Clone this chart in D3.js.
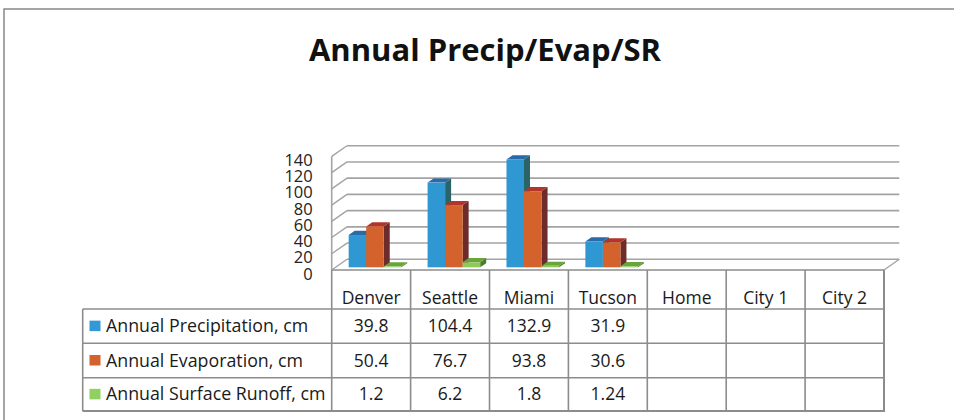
<!DOCTYPE html>
<html><head><meta charset="utf-8">
<script src="https://cdn.jsdelivr.net/npm/d3@7"></script>
<style>html,body{margin:0;padding:0;background:#fff;}svg{display:block;}</style>
</head><body>
<svg id="c" width="954" height="420"></svg>
<script>
const title = "Annual Precip/Evap/SR";
const categories = ["Denver","Seattle","Miami","Tucson","Home","City 1","City 2"];
const seriesNames = ["Annual Precipitation, cm","Annual Evaporation, cm","Annual Surface Runoff, cm"];
const precip = [39.8,104.4,132.9,31.9,null,null,null];
const evap = [50.4,76.7,93.8,30.6,null,null,null];
const runoff = [1.2,6.2,1.8,1.24,null,null,null];
const yTicks = [0,20,40,60,80,100,120,140];

const seriesValues = [precip, evap, runoff];
const colors = [
  {front:"#2f98d2", top:"#2b6aa8", side:"#2a6466", key:"#3399d6"},
  {front:"#d3622c", top:"#b2352a", side:"#6d2b2b", key:"#d4622c"},
  {front:"#8dc95b", top:"#6aa53b", side:"#4d7a2c", key:"#8fd060"}
];

const svg = d3.select("#c");
const font = "'Open Sans', 'Noto Sans', sans-serif";
const gridCol = "#a3a3a3", lineCol = "#8c8c8c";

// frame
svg.append("rect").attr("x",4).attr("y",9).attr("width",980).attr("height",440)
  .attr("fill","none").attr("stroke","#888").attr("stroke-width",1.5);

svg.append("text").attr("x",485).attr("y",61).attr("text-anchor","middle")
  .attr("font-family",font).attr("font-weight","bold").attr("font-size",31)
  .attr("fill","#111").text(title);

// geometry
const x0 = 331.7, x1 = 884, yFront = 270;
const depthDx = 15.3, depthDy = 10.7;
const x = d3.scaleBand().domain(categories).range([x0, x1]);
const h = d3.scaleLinear().domain([0,140]).range([0,113.6]);
const xs = d3.scaleBand().domain(seriesNames).range([0, x.bandwidth()]).paddingInner(0).paddingOuter(0.75);

const g = svg.append("g");
yTicks.forEach(t => {
  const yb = yFront - depthDy - h(t), yf = yFront - h(t);
  g.append("line").attr("x1",x0+depthDx).attr("x2",x1+depthDx).attr("y1",yb).attr("y2",yb)
    .attr("stroke",gridCol).attr("stroke-width",1.6);
  g.append("line").attr("x1",x0).attr("x2",x0+depthDx).attr("y1",yf).attr("y2",yb)
    .attr("stroke",gridCol).attr("stroke-width",1.4);
});
g.append("line").attr("x1",x0).attr("x2",x0).attr("y1",yFront).attr("y2",yFront-h(140))
  .attr("stroke",gridCol).attr("stroke-width",1.6);
g.append("line").attr("x1",x1).attr("x2",x1+depthDx).attr("y1",yFront).attr("y2",yFront-depthDy)
  .attr("stroke",gridCol).attr("stroke-width",1.4);

// y labels
yTicks.forEach(t => {
  svg.append("text").attr("x",312.7).attr("y",yFront - h(t) + 9.5)
    .attr("text-anchor","end").attr("font-family",font).attr("font-size",16.5)
    .attr("fill","#222").text(t);
});

// bars
const bf = 0.25, bd = 6, bdy = bd*depthDy/depthDx;
const shiftX = bf*depthDx, baseY = yFront - bf*depthDy;
const bars = svg.append("g");
categories.forEach((c,i) => {
  seriesValues.forEach((vals,s) => {
    const v = vals[i];
    if (v == null) return;
    const bx = x(c) + shiftX + xs(seriesNames[s]);
    const w = xs.bandwidth();
    const ty = baseY - h(v);
    const col = colors[s];
    bars.append("path").attr("d",`M${bx+w},${baseY}L${bx+w+bd},${baseY-bdy}L${bx+w+bd},${ty-bdy}L${bx+w},${ty}Z`)
      .attr("fill",col.side);
    bars.append("path").attr("d",`M${bx},${ty}L${bx+bd},${ty-bdy}L${bx+w+bd},${ty-bdy}L${bx+w},${ty}Z`)
      .attr("fill",col.top);
    bars.append("rect").attr("x",bx).attr("y",ty).attr("width",w).attr("height",baseY-ty)
      .attr("fill",col.front);
  });
});

// data table
const rowTops = [309, 343.3, 377.7, 411];
const legX = 82.7;
const t = svg.append("g").attr("stroke",lineCol).attr("stroke-width",1.6);
t.append("line").attr("x1",x0).attr("x2",x1).attr("y1",yFront).attr("y2",yFront);
rowTops.forEach(y => t.append("line").attr("x1",legX).attr("x2",x1).attr("y1",y).attr("y2",y));
t.append("line").attr("x1",legX).attr("x2",legX).attr("y1",rowTops[0]).attr("y2",rowTops[3]);
categories.forEach(c => t.append("line").attr("x1",x(c)).attr("x2",x(c)).attr("y1",yFront).attr("y2",rowTops[3]));
t.append("line").attr("x1",x1).attr("x2",x1).attr("y1",yFront).attr("y2",rowTops[3]).attr("stroke-width",2);
t.append("line").attr("x1",legX).attr("x2",x1+1).attr("y1",rowTops[3]).attr("y2",rowTops[3]).attr("stroke-width",2);

categories.forEach(c => {
  svg.append("text").attr("x",x(c)+x.bandwidth()/2).attr("y",304)
    .attr("text-anchor","middle").attr("font-family",font).attr("font-size",17.5)
    .attr("fill","#1a1a1a").text(c);
});
seriesNames.forEach((name,s) => {
  const yc = (rowTops[s]+rowTops[s+1])/2;
  svg.append("rect").attr("x",89.5).attr("y",yc-5.5).attr("width",11).attr("height",10.5)
    .attr("fill",colors[s].key);
  svg.append("text").attr("x",106).attr("y",yc+6).attr("font-family",font).attr("font-size",17.8)
    .attr("fill","#1a1a1a").text(name);
  categories.forEach((c,i) => {
    const v = seriesValues[s][i];
    if (v == null) return;
    svg.append("text").attr("x",x(c)+x.bandwidth()/2).attr("y",yc+6)
      .attr("text-anchor","middle").attr("font-family",font).attr("font-size",17.5)
      .attr("fill","#1a1a1a").text(String(v));
  });
});
</script>
</body></html>
